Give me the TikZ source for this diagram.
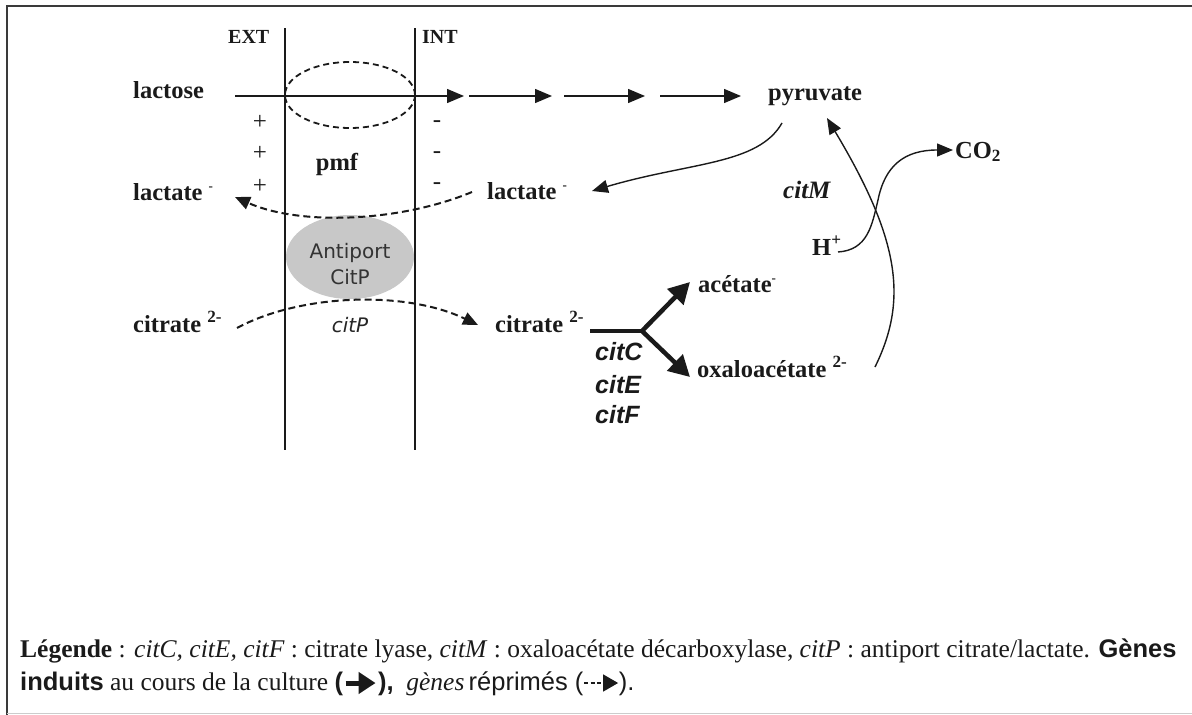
\documentclass[tikz,border=0pt]{standalone}
\usepackage{fontspec}
\setmainfont{Liberation Serif}
\setsansfont{Liberation Sans}
\newfontfamily\rounded{DejaVu Sans}
\usetikzlibrary{arrows.meta,shapes.geometric}
\definecolor{ink}{HTML}{1A1A1A}
\definecolor{frameink}{HTML}{3A3A3A}
\definecolor{protein}{HTML}{C8C8C8}
\begin{document}
\begin{tikzpicture}[x=1pt,y=-1pt,
  lbl/.style={font=\fontsize{24.5}{28}\selectfont\bfseries, inner sep=0pt, anchor=base west, text=ink},
  side/.style={font=\fontsize{20}{24}\selectfont\bfseries, inner sep=0pt, anchor=base west, text=ink},
  gene/.style={font=\fontsize{25}{29}\selectfont\sffamily\bfseries\itshape, inner sep=0pt, anchor=base west, text=ink},
  charge/.style={font=\fontsize{25}{27}\selectfont, inner sep=0pt, text=ink},
  membrane/.style={line width=1.4pt, ink},
  thinarrow/.style={line width=1.4pt, ink, -{Triangle[length=17pt,width=14pt]}},
  curvearrow/.style={line width=1.4pt, ink, -{Triangle[length=16pt,width=13pt]}},
  fatline/.style={line width=4.5pt, ink},
  fatarrow/.style={line width=4.5pt, ink, -{Triangle[length=21pt,width=22pt]}},
  repressed/.style={line width=2pt, ink, dash pattern=on 7pt off 4pt, -{Triangle[length=15pt,width=13pt]}},
  legend/.style={font=\fontsize{25.5}{29}\selectfont, inner sep=0pt, anchor=base west, text=ink}
]
\useasboundingbox (0,0) rectangle (1192,715);

% frame
\draw[line width=2.6pt, frameink] (7,715) -- (7,6) -- (1192,6);
\draw[line width=1pt, black!20] (7,713) -- (1192,713);

% membrane
\coordinate (extTop) at (285,28);
\coordinate (extBot) at (285,450);
\coordinate (intTop) at (415,28);
\coordinate (intBot) at (415,450);
\draw[membrane] (extTop) -- (extBot);
\draw[membrane] (intTop) -- (intBot);
\node[side] (ext) at (228,43) {EXT};
\node[side] (int) at (422,43) {INT};

% lactose permease
\node[draw, ink, line width=1.8pt, dash pattern=on 6pt off 4pt, ellipse,
      minimum width=130pt, minimum height=66pt, inner sep=0pt] (perm) at (350,95) {};

% citrate/lactate antiporter
\node[ellipse, fill=protein, minimum width=128pt, minimum height=84pt, inner sep=0pt] (antiport) at (350,257) {};
\node[font=\rounded\fontsize{20}{26}\selectfont, text=black!80, align=center, inner sep=0pt] (antitxt) at (350,264) {Antiport\\CitP};

% metabolites
\node[lbl] (lactose) at (133,98) {lactose};
\node[lbl] (pyruvate) at (768,100) {pyruvate};
\node[lbl, anchor=base] (pmf) at (337,170) {pmf};
\node[lbl] (lactL) at (133,200) {lactate \textsuperscript{\fontsize{13}{13}\selectfont -}};
\node[lbl] (lactR) at (487,199) {lactate \textsuperscript{\fontsize{13}{13}\selectfont -}};
\node[lbl] (citrL) at (133,332) {citrate \textsuperscript{2-}};
\node[lbl] (citrR) at (495,332) {citrate \textsuperscript{2-}};
\node[font=\rounded\fontsize{20}{24}\selectfont\itshape, text=black!85, inner sep=0pt, anchor=base] (citP) at (350,332) {citP};
\node[lbl] (acetate) at (698,292) {acétate\textsuperscript{\fontsize{13}{13}\selectfont -}};
\node[lbl] (oxalo) at (697,377) {oxaloacétate \textsuperscript{2-}};
\node[lbl, font=\fontsize{25}{29}\selectfont\bfseries\itshape] (citM) at (783,198) {citM};
\node[lbl] (proton) at (812,255) {H\textsuperscript{+}};
\node[lbl] (co2) at (955,158) {CO\textsubscript{2}};

% citrate lyase genes
\node[gene] (citC) at (595,360) {citC};
\node[gene] (citE) at (595,393) {citE};
\node[gene] (citF) at (595,423) {citF};

% membrane potential
\node[charge] (p1) at (260,122) {+};
\node[charge] (p2) at (260,153) {+};
\node[charge] (p3) at (260,186) {+};
\node[charge] (n1) at (437,124) {-};
\node[charge] (n2) at (437,155) {-};
\node[charge] (n3) at (437,186) {-};

% glycolysis
\coordinate (g0) at (235,96);
\coordinate (g1) at (464,96);
\coordinate (g2a) at (469,96);
\coordinate (g2) at (552,96);
\coordinate (g3a) at (564,96);
\coordinate (g3) at (645,96);
\coordinate (g4a) at (660,96);
\coordinate (g4) at (741,96);
\draw[thinarrow] (g0) -- (g1);
\draw[thinarrow] (g2a) -- (g2);
\draw[thinarrow] (g3a) -- (g3);
\draw[thinarrow] (g4a) -- (g4);

% pyruvate -> lactate
\coordinate (pyrOut) at (782,123);
\coordinate (lacIn) at (592,191);
\draw[curvearrow] (pyrOut) .. controls (758,165) and (690,162) .. (lacIn);

% lactate export (repressed)
\coordinate (lacOut) at (472,192);
\coordinate (lacExt) at (235,197);
\draw[repressed] (lacOut) .. controls (400,222) and (300,226) .. (lacExt);

% citrate import (repressed)
\coordinate (citIn) at (237,328);
\coordinate (citInt) at (478,325);
\draw[repressed] (citIn) .. controls (300,294) and (405,290) .. (citInt);

% citrate lyase (induced)
\coordinate (lyaseStart) at (590,331);
\coordinate (lyase) at (642,331);
\coordinate (aceIn) at (690,282);
\coordinate (oxaIn) at (690,377);
\draw[fatline] (lyaseStart) -- (lyase);
\draw[fatarrow] (lyase) -- (aceIn);
\draw[fatarrow] (lyase) -- (oxaIn);

% oxaloacetate decarboxylase
\coordinate (oxaOut) at (875,367);
\coordinate (pyrIn) at (827,118);
\draw[curvearrow] (oxaOut) .. controls (908,300) and (900,240) .. (pyrIn);
\coordinate (hOut) at (838,252);
\coordinate (hMid) at (878,200);
\coordinate (co2In) at (953,150);
\draw[curvearrow] (hOut) .. controls (868,250) and (872,225) .. (hMid)
                  .. controls (885,165) and (905,150) .. (co2In);

% legend
\node[legend] (leg1) at (20,657) {\textbf{Légende} : \textit{citC, citE, citF} : citrate lyase, \textit{citM} : oxaloacétate décarboxylase, \textit{citP} : antiport citrate/lactate. {\sffamily\bfseries Gènes}};
\node[legend] (leg2) at (20,690) {{\sffamily\bfseries induits} au cours de la culture {\sffamily\bfseries (\tikz[x=1pt,y=1pt,baseline=-7pt]\draw[line width=5pt,-{Triangle[length=17pt,width=21pt]}] (0,0) -- (30,0);),}\ \ \textit{gènes}\,{\sffamily réprimés (\tikz[x=1pt,y=1pt,baseline=-7pt]\draw[line width=1.3pt,dash pattern=on 4pt off 2.5pt,-{Triangle[length=15pt,width=17pt]}] (0,0) -- (34,0);).}};
\end{tikzpicture}
\end{document}
